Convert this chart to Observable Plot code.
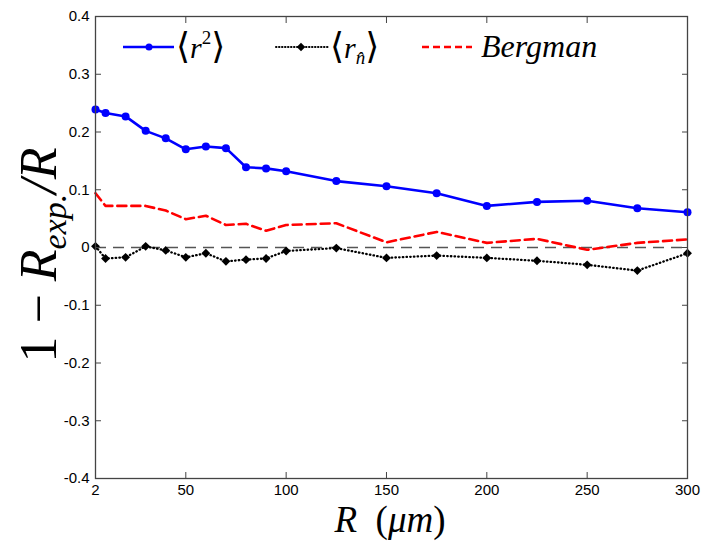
<!DOCTYPE html>
<html><head><meta charset="utf-8">
<script src="https://cdn.jsdelivr.net/npm/d3@7"></script>
<script src="https://cdn.jsdelivr.net/npm/@observablehq/plot@0.6"></script>
<style>body{margin:0;background:#fff}</style>
</head><body><div id="chart"></div>
<script>
// Data
const R = [5,10,20,30,40,50,60,70,80,90,100,125,150,175,200,225,250,275,300];
const r2 = [0.239,0.233,0.227,0.202,0.189,0.170,0.175,0.172,0.139,0.137,0.132,0.115,0.106,0.094,0.072,0.079,0.081,0.068,0.061];
const rn = [0.002,-0.019,-0.017,0.002,-0.005,-0.017,-0.010,-0.024,-0.021,-0.019,-0.006,-0.001,-0.018,-0.014,-0.018,-0.023,-0.030,-0.040,-0.010];
const bergman = [0.094,0.072,0.072,0.072,0.064,0.049,0.055,0.039,0.041,0.029,0.039,0.042,0.009,0.027,0.008,0.015,-0.004,0.008,0.014];
const xTicks = [5,50,100,150,200,250,300];
const xTickLabels = ["2","50","100","150","200","250","300"];
const yTicks = [-0.4,-0.3,-0.2,-0.1,0,0.1,0.2,0.3,0.4];
const yTickLabels = ["-0.4","-0.3","-0.2","-0.1","0","0.1","0.2","0.3","0.4"];

const rows = R.map((x, i) => ({x, r2: r2[i], rn: rn[i], b: bergman[i]}));
const serif = "'Liberation Serif','DejaVu Serif',serif";

const plot = Plot.plot({
  width: 704, height: 541,
  marginLeft: 95, marginRight: 17, marginTop: 16, marginBottom: 63,
  style: {fontFamily: "'Liberation Sans',Arial,sans-serif", fontSize: "15px", color: "#000", background: "#fff"},
  x: {domain: [5, 300]},
  y: {domain: [-0.4, 0.4]},
  marks: [
    Plot.ruleY([0], {stroke: "#555", strokeWidth: 1.3, strokeDasharray: "11,7"}),
    Plot.line(rows, {x: "x", y: "b", stroke: "#ff0000", strokeWidth: 2.6, strokeDasharray: "9,5"}),
    Plot.line(rows, {x: "x", y: "rn", stroke: "#000", strokeWidth: 2.3, strokeDasharray: "0.5,3.2", strokeLinecap: "round"}),
    Plot.dot(rows, {x: "x", y: "rn", symbol: "diamond2", r: 4, fill: "#000", stroke: null}),
    Plot.line(rows, {x: "x", y: "r2", stroke: "#0000ff", strokeWidth: 2.6}),
    Plot.dot(rows, {x: "x", y: "r2", r: 4, fill: "#0000ff", stroke: null}),
    Plot.frame({stroke: "#444", strokeWidth: 1.3}),
    Plot.axisX({anchor: "bottom", ticks: xTicks, tickSize: -6, text: null, label: null, stroke: "#444"}),
    Plot.axisX({anchor: "top", ticks: xTicks, tickSize: -6, text: null, label: null, stroke: "#444"}),
    Plot.axisY({anchor: "left", ticks: yTicks, tickSize: -6, text: null, label: null, stroke: "#444"}),
    Plot.axisY({anchor: "right", ticks: yTicks, tickSize: -6, text: null, label: null, stroke: "#444"}),
    Plot.axisX({anchor: "bottom", ticks: xTicks, tickSize: 0, tickPadding: 6, label: null,
      tickFormat: d => xTickLabels[xTicks.indexOf(d)]}),
    Plot.axisY({anchor: "left", ticks: yTicks, tickSize: 0, tickPadding: 6, label: null,
      tickFormat: d => yTickLabels[yTicks.findIndex(t => Math.abs(t - d) < 1e-9)]})
  ]
});
document.getElementById("chart").appendChild(plot);

const svg = d3.select(plot);
// Y axis label
const yl = svg.append("text")
  .attr("transform", "translate(56,255) rotate(-90)")
  .attr("text-anchor", "middle")
  .style("font-family", serif).style("font-size", "52px").attr("fill", "#000");
yl.append("tspan").text("1 − ");
yl.append("tspan").style("font-style", "italic").text("R");
yl.append("tspan").style("font-style", "italic").style("font-size", "34px").attr("dy", "10").text("exp.");
yl.append("tspan").style("font-style", "italic").attr("dy", "-10").text("/R");

// X axis label
const xl = svg.append("text")
  .attr("x", 390).attr("y", 532)
  .attr("text-anchor", "middle")
  .style("font-family", serif).style("font-size", "37px").attr("fill", "#000");
xl.append("tspan").style("font-style", "italic").text("R");
xl.append("tspan").text("\u2002(");
xl.append("tspan").style("font-style", "italic").text("μm");
xl.append("tspan").text(")");

// Legend
const lg = svg.append("g").attr("text-anchor", "start");
const ly = 47;
lg.append("line").attr("x1", 123).attr("x2", 174).attr("y1", ly).attr("y2", ly)
  .attr("stroke", "#0000ff").attr("stroke-width", 2.4);
lg.append("circle").attr("cx", 149).attr("cy", ly).attr("r", 3.5).attr("fill", "#0000ff");
const t1 = lg.append("text").attr("x", 176).attr("y", ly + 11)
  .style("font-family", serif).style("font-size", "36px");
t1.append("tspan").text("⟨");
t1.append("tspan").style("font-style", "italic").style("font-size", "30px").text("r");
t1.append("tspan").style("font-size", "19px").attr("dy", "-14").text("2");
t1.append("tspan").attr("dy", "14").text("⟩");

lg.append("line").attr("x1", 276).attr("x2", 328).attr("y1", ly).attr("y2", ly)
  .attr("stroke", "#000").attr("stroke-width", 2).attr("stroke-dasharray", "0.5,2.5").attr("stroke-linecap", "round");
lg.append("path").attr("d", d3.symbol(d3.symbolSquare, 36)()).attr("transform", `translate(301,${ly}) rotate(45)`).attr("fill", "#000");
const t2 = lg.append("text").attr("x", 330).attr("y", ly + 11)
  .style("font-family", serif).style("font-size", "36px");
t2.append("tspan").text("⟨");
t2.append("tspan").style("font-style", "italic").style("font-size", "30px").text("r");
t2.append("tspan").style("font-style", "italic").style("font-size", "19px").attr("dy", "6").text("n̂");
t2.append("tspan").attr("dy", "-6").text("⟩");

lg.append("line").attr("x1", 422).attr("x2", 472).attr("y1", ly).attr("y2", ly)
  .attr("stroke", "#ff0000").attr("stroke-width", 2.4).attr("stroke-dasharray", "7,4");
lg.append("text").attr("x", 481).attr("y", ly + 10)
  .style("font-family", serif).style("font-size", "32px").style("font-style", "italic")
  .text("Bergman");
</script>
</body></html>
